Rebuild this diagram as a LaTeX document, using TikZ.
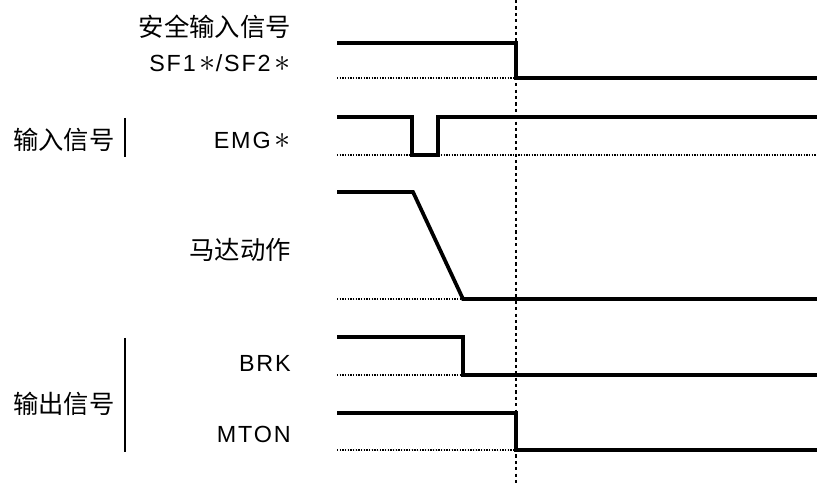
\documentclass[tikz,border=0pt]{standalone}
\usepackage{fontspec}
\newfontfamily\cjk{Noto Sans CJK SC}
\newfontfamily\lat[LetterSpace=8]{Liberation Sans}
\newcommand\sstar{\,\scalebox{1.4}{$\ast$}}
\usetikzlibrary{positioning}

\begin{document}
\begin{tikzpicture}[x=0.75pt, y=-0.75pt]
	\tikzstyle{wave}=[line width=2.8pt, line join=miter]
	\tikzstyle{base}=[line width=1pt, dash pattern=on 1pt off 1pt]
	\tikzstyle{cutline}=[line width=1.3pt, dash pattern=on 2.4pt off 2.4pt]
	\tikzstyle{bar}=[line width=1.6pt]
	\tikzstyle{sig}=[anchor=east, inner sep=0pt, font=\lat\fontsize{17.5}{17.5}\selectfont]
	\tikzstyle{grp}=[anchor=west, inner sep=0pt, font=\cjk\fontsize{19}{19}\selectfont]
	\useasboundingbox (0,0) rectangle (817,484);

	% labels
	\node[grp, anchor=east] (safe) at (291,27)  {安全输入信号};
	\node[sig]              (sf)   at (291,63)  {SF1\sstar/SF2\sstar};
	\node[grp]              (in)   at (13,140)  {输入信号};
	\node[sig]              (emg)  at (291,140) {EMG\sstar};
	\node[grp, anchor=east] (mot)  at (291,250) {马达动作};
	\node[sig]              (brk)  at (291,363) {BRK};
	\node[grp]              (out)  at (13,404)  {输出信号};
	\node[sig]              (mton) at (291,434) {MTON};

	% group bars
	\draw[bar] (125,118) -- (125,157);
	\draw[bar] (125,338) -- (125,452);

	% low levels
	\draw[base] (337,78)  -- (516,78);
	\draw[base] (337,155) -- (817,155);
	\draw[base] (337,299) -- (463,299);
	\draw[base] (337,375) -- (463,375);
	\draw[base] (337,450) -- (516,450);

	% waveforms
	\draw[wave] (337,43)  -| (516,78) -- (817,78);
	\draw[wave] (337,117) -| (412,155) -| (438,117) -- (817,117);
	\draw[wave] (337,192) -- (413,192) -- (463,299) -- (817,299);
	\draw[wave] (337,337) -| (463,375) -- (817,375);
	\draw[wave] (337,413) -| (516,450) -- (817,450);

	% stop instant
	\draw[cutline] (516,0) -- (516,484);
\end{tikzpicture}
\end{document}
